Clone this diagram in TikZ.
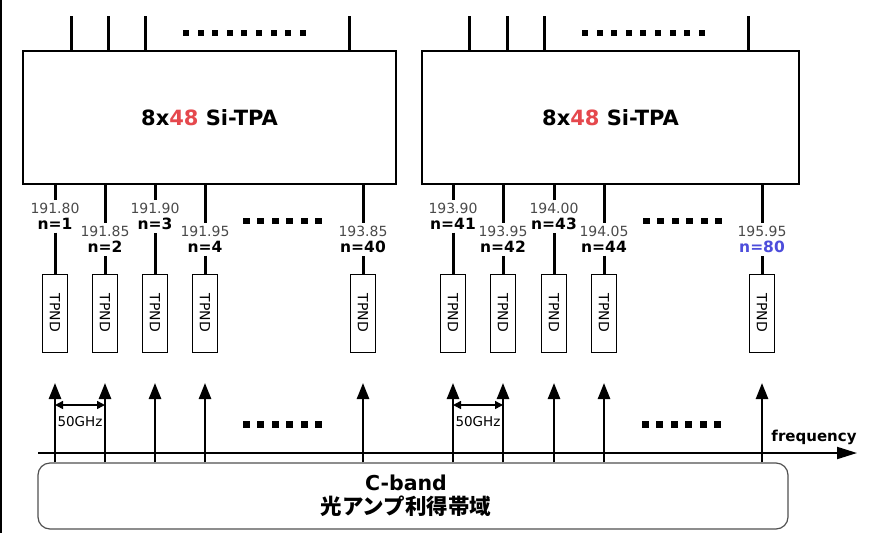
\documentclass[tikz,border=0pt]{standalone}
\usepackage{fontspec}
\setmainfont{DejaVu Sans}
\newfontfamily\jpfont{Noto Sans CJK JP}
\usetikzlibrary{arrows.meta,positioning}
\definecolor{tpared}{HTML}{E5484D}
\definecolor{lastblue}{HTML}{4D4DDB}
\definecolor{freqgray}{HTML}{4A4A4A}
\definecolor{bandgray}{HTML}{505050}
\tikzset{
    every picture/.style={line join=miter},
    tpabox/.style={draw,line width=2pt,minimum height=133pt,inner sep=0pt},
    tpatext/.style={font=\bfseries\fontsize{21}{24}\selectfont},
    pdbox/.style={draw,line width=1pt,minimum width=25pt,minimum height=78pt,
      inner sep=0pt,font=\fontsize{14}{14}\selectfont},
    wgline/.style={line width=3pt},
    freqtext/.style={inner xsep=1pt,inner ysep=3pt,text=freqgray,
      font=\fontsize{14}{14}\selectfont},
    chtext/.style={inner xsep=1pt,inner ysep=3pt,font=\bfseries\fontsize{15.5}{16}\selectfont},
    sigarrow/.style={-{Triangle[length=16pt,width=12pt]},line width=2.5pt},
    gridarrow/.style={{Triangle[length=8pt,width=8pt]}-{Triangle[length=8pt,width=8pt]},
      line width=1.5pt},
    axisarrow/.style={-{Triangle[length=20pt,width=12pt]},line width=2pt},
    bandbox/.style={draw=bandgray,line width=1.2pt,rounded corners=12pt,
      minimum width=750pt,minimum height=66pt}
}

\begin{document}
\begin{tikzpicture}[x=1pt,y=-1pt]
  \useasboundingbox (0,0) rectangle (885,533);
  \draw[line width=1.5pt] (0.75,0) -- (0.75,533);
  % two 8x48 array chips
  \node[tpabox,minimum width=373pt] (tpaL) at (209.5,117.5) {};
  \node[tpabox,minimum width=377pt] (tpaR) at (610.5,117.5) {};
  \node[tpatext] (titleL) at (tpaL) {8x\textcolor{tpared}{48} Si-TPA};
  \node[tpatext] (titleR) at (tpaR) {8x\textcolor{tpared}{48} Si-TPA};
  % input ports
  \foreach \x/\b [count=\i] in {71/L,108/L,145/L,349/L,469/R,507/R,544/R,748/R} {
    \coordinate (in\i) at (\x,16);
    \draw[wgline] (in\i) -- (in\i |- tpa\b.north);
  }
  \foreach \k in {0,...,8} {
    \fill (183+\k*14.6,30) rectangle ++(6,6);
    \fill (582+\k*14.6,30) rectangle ++(6,6);
  }
  % output channels
  \node[bandbox] (band) at (413,496) {};
  \coordinate (gridy) at (0,405);
  \foreach \x/\f/\n/\dy/\b [count=\ch] in {55/191.80/n=1/0/L,105/191.85/n=2/1/L,
      155/191.90/n=3/0/L,205/191.95/n=4/1/L,363/193.85/n=40/1/L,
      453/193.90/n=41/0/R,503/193.95/n=42/1/R,554/194.00/n=43/0/R,
      604/194.05/n=44/1/R,762/195.95/{\textcolor{lastblue}{n=80}}/1/R} {
    \node[pdbox] (pd\ch) at (\x,313) {\rotatebox{-90}{TPND}};
    \node[freqtext] (fq\ch) at (\x,{208+23*\dy}) {\f};
    \node[chtext,below=-1.5pt of fq\ch] (nn\ch) {\n};
    \draw[wgline] (fq\ch.north |- tpa\b.south) -- (fq\ch.north);
    \draw[wgline] (nn\ch.south -| pd\ch) -- (pd\ch.north);
    \coordinate (sg\ch) at (\x,383);
    \draw[sigarrow] (sg\ch |- band.north) -- (sg\ch);
  }
  \foreach \k in {0,...,5} {
    \fill (243+\k*14.4,218) rectangle ++(7,6);
    \fill (643+\k*14.4,218) rectangle ++(7,6);
    \fill (243+\k*14.4,421) rectangle ++(7,7);
    \fill (642+\k*14.4,421) rectangle ++(7,7);
  }
  % grid spacing
  \draw[gridarrow] (sg1 |- gridy) -- (sg2 |- gridy);
  \draw[gridarrow] (sg6 |- gridy) -- (sg7 |- gridy);
  \node[font=\fontsize{13.5}{14}\selectfont,inner sep=0pt] (ghzL) at (80,422) {50GHz};
  \node[font=\fontsize{13.5}{14}\selectfont,inner sep=0pt] (ghzR) at (478,422) {50GHz};
  % frequency axis
  \coordinate (axS) at (38,453);
  \coordinate (axE) at (857,453);
  \draw[axisarrow] (axS) -- (axE);
  \node[font=\bfseries\fontsize{15}{15}\selectfont] (freq) at (814,437) {frequency};
  \node[font=\bfseries\fontsize{20.5}{22}\selectfont] (bandC) at (406,483) {C-band};
  \node[font=\jpfont\bfseries\fontsize{21.5}{24}\selectfont] (bandJ) at (406,506)
    {光アンプ利得帯域};
\end{tikzpicture}
\end{document}
